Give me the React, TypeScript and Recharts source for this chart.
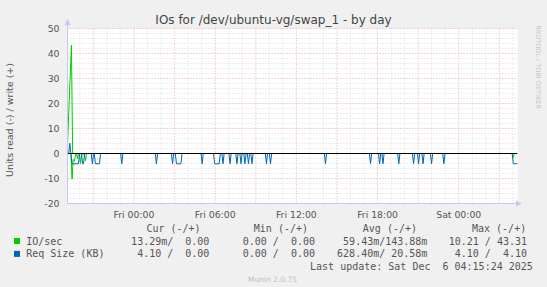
import React from 'react';
import { LineChart, Line, XAxis, YAxis, CartesianGrid, ReferenceLine } from 'recharts';

// hours relative to Fri 00:00
const START = -4.91;
const END = 28.34;
const STEP = 1 / 12; // 5 minute samples

const timeTicks = [0, 6, 12, 18, 24];
const timeLabels = ['Fri 00:00', 'Fri 06:00', 'Fri 12:00', 'Fri 18:00', 'Sat 00:00'];
const valueTicks = [-20, -10, 0, 10, 20, 30, 40, 50];

const majorHours = [-3, 0, 3, 6, 9, 12, 15, 18, 21, 24, 27];
const minorHours = [-4, -2, -1, 1, 2, 4, 5, 7, 8, 10, 11, 13, 14, 16, 17, 19, 20, 22, 23, 25, 26, 28];
const majorValues = [-10, 10, 20, 30, 40, 50];
const minorValues = [-18, -16, -14, -12, -8, -6, -4, -2, 2, 4, 6, 8, 12, 14, 16, 18, 22, 24, 26, 28, 32, 34, 36, 38, 42, 44, 46, 48];

// IO/sec (green): write up, read down
const ioWrite: [number, number][] = [[-4.94, 0], [-4.62, 43.31], [-4.53, 0]];
const ioRead: [number, number][] = [
  [-4.66, 0], [-4.57, -10.21], [-4.49, -2.4], [-4.40, -3.1], [-4.32, -0.6], [-4.25, 0],
  [-4.18, -2.0], [-4.10, 0], [-4.03, 0], [-3.95, -4.0], [-3.88, -0.8], [-3.66, 0],
  [-3.58, -3.0], [-3.51, 0], [27.94, 0], [28.03, -1.5], [28.12, 0],
];

// Req Size (KB) (blue)
const reqWrite: [number, number][] = [[-4.91, 0], [-4.82, 0], [-4.74, 4.1], [-4.66, 0]];
const REQ_READ = 4.1;
// [first, last] hour of each read burst
const reqReadBursts: [number, number][] = [
  [-4.58, -4.10], [-3.80, -3.73], [-3.07, -3.07], [-2.85, -2.55], [-0.90, -0.90],
  [1.66, 1.66], [2.85, 2.85], [3.14, 3.47], [5.04, 5.04], [5.96, 6.30], [6.58, 6.58],
  [7.10, 7.10], [7.61, 7.61], [7.91, 7.91], [8.20, 8.20], [8.46, 8.46], [8.72, 8.72],
  [9.79, 9.79], [10.09, 10.09], [14.15, 14.15], [17.48, 17.48], [18.15, 18.15],
  [18.40, 18.40], [19.57, 19.57], [20.66, 20.66], [21.03, 21.03], [21.36, 21.36],
  [21.99, 21.99], [22.90, 22.90], [28.03, 28.34],
];

const legendRows = [
  { label: 'IO/sec', color: '#00CC00', cur: '13.29m/  0.00', min: '0.00 /  0.00', avg: '59.43m/143.88m', max: '10.21 / 43.31' },
  { label: 'Req Size (KB)', color: '#0066B3', cur: '4.10 /  0.00', min: '0.00 /  0.00', avg: '628.40m/ 20.58m', max: '4.10 /  4.10' },
];

const toPoints = (pts: [number, number][]) => pts.map(([t, v]) => ({ t, v }));

const reqRead = (() => {
  const out: { t: number; v: number }[] = [{ t: START, v: 0 }];
  reqReadBursts.forEach(([a, b]) => {
    out.push({ t: a - STEP, v: 0 }, { t: a, v: -REQ_READ }, { t: b, v: -REQ_READ });
    if (b + STEP < END) out.push({ t: b + STEP, v: 0 });
  });
  return out;
})();

const zeroRule = [{ t: START, v: 0 }, { t: END, v: 0 }];

const GREEN = '#00CC00';
const BLUE = '#0066B3';
const AXIS = '#c4c8f0';
const font = '"DejaVu Sans", sans-serif';
const mono = '"DejaVu Sans Mono", monospace';

export default function App() {
  return (
    <div style={{ position: 'fixed', left: 0, top: 0, width: 547, height: 287, background: '#f0f0f0', fontFamily: font }}>
      <LineChart width={547} height={287} margin={{ top: 28.5, right: 29.5, bottom: 63.5, left: 37.5 }}>
        <CartesianGrid fill="#ffffff" horizontal={false} vertical={false} />
        <XAxis
          dataKey="t"
          type="number"
          domain={[START, END]}
          allowDataOverflow
          ticks={timeTicks}
          tickFormatter={(v: number) => timeLabels[timeTicks.indexOf(v)]}
          tickLine={false}
          axisLine={{ stroke: AXIS }}
          height={20}
          tick={{ fontSize: 9.3, fill: '#555', fontFamily: font }}
        />
        <YAxis
          type="number"
          domain={[-20, 50]}
          ticks={valueTicks}
          allowDataOverflow
          tickLine={false}
          axisLine={{ stroke: AXIS }}
          width={30}
          tick={{ fontSize: 9.3, fill: '#555', fontFamily: font }}
        />
        {minorHours.map((h) => (
          <ReferenceLine key={'mh' + h} x={h} stroke="#dcdcdc" strokeDasharray="1 2" />
        ))}
        {minorValues.map((v) => (
          <ReferenceLine key={'mv' + v} y={v} stroke="#dcdcdc" strokeDasharray="1 2" />
        ))}
        {majorHours.map((h) => (
          <ReferenceLine key={'Mh' + h} x={h} stroke="#e6a8a8" strokeDasharray="1 2" />
        ))}
        {majorValues.map((v) => (
          <ReferenceLine key={'Mv' + v} y={v} stroke="#e6a8a8" strokeDasharray="1 2" />
        ))}
        <Line data={toPoints(ioWrite)} dataKey="v" type="linear" stroke={GREEN} strokeWidth={1} dot={false} isAnimationActive={false} />
        <Line data={toPoints(ioRead)} dataKey="v" type="linear" stroke={GREEN} strokeWidth={1} dot={false} isAnimationActive={false} />
        <Line data={toPoints(reqWrite)} dataKey="v" type="linear" stroke={BLUE} strokeWidth={1} dot={false} isAnimationActive={false} />
        <Line data={reqRead} dataKey="v" type="linear" stroke={BLUE} strokeWidth={1} dot={false} isAnimationActive={false} />
        <Line data={zeroRule} dataKey="v" type="linear" stroke="#000" strokeWidth={1} dot={false} isAnimationActive={false} />
      </LineChart>
      <svg width={547} height={287} style={{ position: 'absolute', left: 0, top: 0, pointerEvents: 'none' }}>
        <text x={273.5} y={23.5} textAnchor="middle" fontSize={12} fill="#444" fontFamily={font}>
          IOs for /dev/ubuntu-vg/swap_1 - by day
        </text>
        <text transform="translate(13,120) rotate(-90)" textAnchor="middle" fontSize={9.5} fill="#555" fontFamily={font}>
          Units read (-) / write (+)
        </text>
        <text transform="translate(536,67) rotate(90)" textAnchor="middle" fontSize={6.5} fill="#c4c4c4" fontFamily={font}>
          RRDTOOL / TOBI OETIKER
        </text>
        <line x1={67.5} y1={20} x2={67.5} y2={28.5} stroke={AXIS} />
        <polygon points="64.5,25 70.5,25 67.5,19" fill={AXIS} />
        <line x1={517.5} y1={203.5} x2={521} y2={203.5} stroke={AXIS} />
        <polygon points="516,200.5 516,206.5 522,203.5" fill={AXIS} />
        <g fontFamily={mono} fontSize={10} fill="#555">
          <text xmlSpace="preserve" x={200.6} y={232.3} textAnchor="end">Cur (-/+)</text>
          <text xmlSpace="preserve" x={308} y={232.3} textAnchor="end">Min (-/+)</text>
          <text xmlSpace="preserve" x={417} y={232.3} textAnchor="end">Avg (-/+)</text>
          <text xmlSpace="preserve" x={526.2} y={232.3} textAnchor="end">Max (-/+)</text>
          {legendRows.map((r, i) => {
            const y = 244.5 + i * 12.9;
            return (
              <g key={r.label}>
                <rect x={14} y={y - 6.5} width={6} height={6} fill={r.color} />
                <text xmlSpace="preserve" x={26.2} y={y}>{r.label}</text>
                <text xmlSpace="preserve" x={209.4} y={y} textAnchor="end">{r.cur}</text>
                <text xmlSpace="preserve" x={315} y={y} textAnchor="end">{r.min}</text>
                <text xmlSpace="preserve" x={427.4} y={y} textAnchor="end">{r.avg}</text>
                <text xmlSpace="preserve" x={527} y={y} textAnchor="end">{r.max}</text>
              </g>
            );
          })}
          <text xmlSpace="preserve" x={532.8} y={270} textAnchor="end">Last update: Sat Dec  6 04:15:24 2025</text>
        </g>
        <text x={272.5} y={282} textAnchor="middle" fontSize={7.5} fill="#c0c0c0" fontFamily={font}>
          Munin 2.0.75
        </text>
      </svg>
    </div>
  );
}
